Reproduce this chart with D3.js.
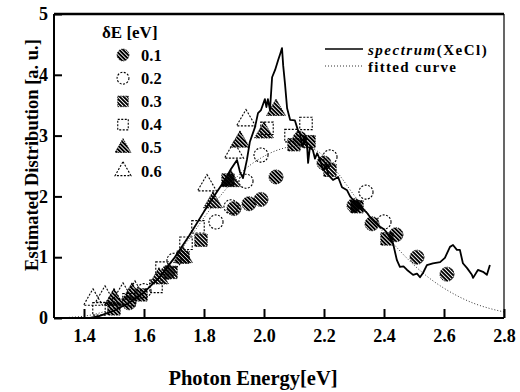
<!DOCTYPE html>
<html>
<head>
<meta charset="utf-8">
<script src="https://cdn.jsdelivr.net/npm/d3@7"></script>
<style>
  body { margin: 0; background: #fff; }
  svg text { font-family: "Liberation Serif", "Times New Roman", serif !important; font-weight: bold; fill: #000; }
</style>
</head>
<body>
<div id="chart"></div>
<script>
// measured spectrum (XeCl), [photon energy, value]
const spectrum = [
  [1.38,0.0],[1.42,0.0],[1.45,0.03],[1.50,0.12],[1.55,0.25],[1.60,0.42],[1.65,0.66],[1.70,0.98],
  [1.75,1.35],[1.80,1.75],[1.84,2.05],[1.86,2.2],[1.875,2.32],[1.89,2.45],[1.91,2.6],[1.92,2.4],
  [1.93,2.3],[1.943,2.6],[1.953,2.9],[1.97,3.14],[1.98,3.37],[1.99,3.42],[2.003,3.6],[2.008,3.47],
  [2.013,3.6],[2.02,3.42],[2.027,3.96],[2.037,4.08],[2.047,4.24],[2.055,4.36],[2.06,4.44],[2.064,4.15],
  [2.07,3.85],[2.077,3.45],[2.087,3.26],[2.103,3.25],[2.113,3.09],[2.12,3.04],[2.127,2.82],[2.135,2.9],
  [2.143,2.88],[2.147,2.55],[2.153,2.81],[2.163,2.76],[2.17,2.62],[2.177,2.71],[2.187,2.6],[2.197,2.43],
  [2.207,2.5],[2.215,2.35],[2.23,2.27],[2.247,2.32],[2.26,2.15],[2.277,2.1],[2.287,2.0],[2.297,1.94],
  [2.31,1.9],[2.32,1.83],[2.333,1.78],[2.343,1.73],[2.353,1.66],[2.363,1.61],[2.375,1.55],[2.387,1.5],
  [2.4,1.46],[2.41,1.4],[2.43,1.23],[2.443,0.95],[2.453,0.84],[2.465,0.85],[2.477,0.79],[2.497,0.71],
  [2.51,0.73],[2.52,0.67],[2.53,0.74],[2.543,0.87],[2.563,0.9],[2.587,0.92],[2.603,0.99],[2.62,1.17],
  [2.63,1.2],[2.643,1.12],[2.653,1.12],[2.663,0.9],[2.677,0.82],[2.693,0.71],[2.697,0.66],[2.713,0.79],
  [2.73,0.76],[2.743,0.71],[2.753,0.87]
];

// fitted curve
const fitted = [
  [1.30,0.0],[1.35,0.01],[1.40,0.03],[1.45,0.08],[1.50,0.16],[1.55,0.28],[1.60,0.45],[1.65,0.68],
  [1.70,0.97],[1.75,1.3],[1.80,1.65],[1.85,1.98],[1.90,2.27],[1.95,2.5],[2.00,2.66],[2.05,2.77],
  [2.10,2.82],[2.15,2.8],[2.20,2.66],[2.25,2.36],[2.30,2.02],[2.35,1.7],[2.40,1.4],[2.45,1.12],
  [2.50,0.87],[2.55,0.66],[2.60,0.49],[2.65,0.35],[2.70,0.24],[2.75,0.16],[2.80,0.1]
];

// estimated distributions for each dE
const de01 = [[1.55,0.25],[1.68,0.75],[1.9,1.8],[1.95,1.88],[1.99,1.95],[2.04,2.32],[2.12,2.95],
  [2.2,2.55],[2.3,1.85],[2.36,1.55],[2.44,1.37],[2.51,1.0],[2.61,0.72]];
const de02 = [[1.6,0.45],[1.7,0.95],[1.84,1.58],[1.89,1.83],[1.94,2.25],[1.99,2.68],[2.22,2.65],
  [2.34,2.07],[2.4,1.58]];
const de03 = [[1.5,0.15],[1.59,0.38],[1.69,0.75],[1.73,1.0],[1.79,1.28],[1.88,2.27],[2.1,2.85],
  [2.15,2.9],[2.22,2.43],[2.31,1.83],[2.41,1.3]];
const de04 = [[1.45,0.15],[1.55,0.3],[1.64,0.52],[1.66,0.82],[1.74,1.23],[1.78,1.5],[2.01,3.12],
  [2.09,3.0],[2.14,3.2]];
const de05 = [[1.5,0.3],[1.56,0.4],[1.65,0.65],[1.73,1.0],[1.83,1.9],[1.89,2.25],[1.92,2.9],
  [2.0,3.05],[2.04,3.42]];
const de06 = [[1.43,0.3],[1.47,0.35],[1.5,0.3],[1.53,0.4],[1.57,0.43],[1.81,2.18],[1.9,2.72],[1.94,3.25]];

const deLabels = ["0.1","0.2","0.3","0.4","0.5","0.6"];
const xTicks = [1.4,1.6,1.8,2.0,2.2,2.4,2.6,2.8];
const yTicks = [0,1,2,3,4,5];

const width = 520, height = 392;
const margin = {left: 54, right: 15, top: 14, bottom: 74};
const serif = '"Liberation Serif", "Times New Roman", serif';

const svg = d3.select("#chart").append("svg")
  .attr("width", width).attr("height", height);

const x = d3.scaleLinear().domain([1.3, 2.8]).range([margin.left, width - margin.right - 1]);
const y = d3.scaleLinear().domain([0, 5]).range([height - margin.bottom, margin.top]);

// hatch pattern for the filled symbols
svg.append("defs").append("pattern")
  .attr("id", "hatch")
  .attr("patternUnits", "userSpaceOnUse")
  .attr("width", 2.8).attr("height", 2.8)
  .attr("patternTransform", "rotate(-45)")
  .append("rect")
  .attr("x", 0).attr("y", 0).attr("width", 1.9).attr("height", 2.8)
  .attr("fill", "#000");

// symbol per series
const series = [
  {data: de01, shape: d3.symbolCircle, filled: true},
  {data: de02, shape: d3.symbolCircle, filled: false},
  {data: de03, shape: d3.symbolSquare, filled: true},
  {data: de04, shape: d3.symbolSquare, filled: false},
  {data: de05, shape: d3.symbolTriangle, filled: true},
  {data: de06, shape: d3.symbolTriangle, filled: false}
];

function drawSymbol(g, s, size) {
  const p = g.append("path")
    .attr("d", d3.symbol().type(s.shape).size(size)());
  if (s.filled) {
    p.attr("fill", "url(#hatch)").attr("stroke", "#000").attr("stroke-width", 0.8)
      .attr("stroke-dasharray", "1.5,1");
  } else {
    p.attr("fill", "none").attr("stroke", "#000").attr("stroke-width", 1.1)
      .attr("stroke-dasharray", "2,1.5");
  }
  return p;
}

// markers
series.forEach(s => {
  s.data.forEach(d => {
    const g = svg.append("g").attr("transform", `translate(${x(d[0])},${y(d[1])})`);
    drawSymbol(g, s, 155);
  });
});

// fitted curve
svg.append("path")
  .datum(fitted)
  .attr("fill", "none")
  .attr("stroke", "#333")
  .attr("stroke-width", 1)
  .attr("stroke-dasharray", "1,2")
  .attr("d", d3.line().curve(d3.curveMonotoneX).x(d => x(d[0])).y(d => y(d[1])));

// spectrum
svg.append("path")
  .datum(spectrum)
  .attr("fill", "none")
  .attr("stroke", "#000")
  .attr("stroke-width", 1.8)
  .attr("stroke-linejoin", "round")
  .attr("d", d3.line().x(d => x(d[0])).y(d => y(d[1])));

// axes
const xAxis = svg.append("g")
  .attr("transform", `translate(0,${y(0)})`)
  .call(d3.axisBottom(x).tickValues(xTicks).tickSize(-9).tickPadding(16).tickFormat(d3.format(".1f")));
const yAxis = svg.append("g")
  .attr("transform", `translate(${x(1.3)},0)`)
  .call(d3.axisLeft(y).tickValues(yTicks).tickSize(-8).tickPadding(6).tickFormat(d3.format("d")));

[xAxis, yAxis].forEach(a => {
  a.attr("font-family", serif).attr("font-weight", "bold");
  a.select(".domain").remove();
  a.selectAll(".tick line").attr("stroke", "#000").attr("stroke-width", 2);
  a.selectAll(".tick text")
    .style("font-family", serif).style("font-weight", "bold").style("font-size", "18px");
});
xAxis.selectAll(".tick text").attr("dy", "0.45em");

// frame
const fx0 = x(1.3), fx1 = x(2.8), fy0 = y(5), fy1 = y(0);
svg.append("line").attr("x1", fx0).attr("x2", fx1).attr("y1", fy0).attr("y2", fy0)
  .attr("stroke", "#000").attr("stroke-width", 2.5);
svg.append("line").attr("x1", fx0).attr("x2", fx1).attr("y1", fy1).attr("y2", fy1)
  .attr("stroke", "#000").attr("stroke-width", 2);
svg.append("line").attr("x1", fx0).attr("x2", fx0).attr("y1", fy0).attr("y2", fy1)
  .attr("stroke", "#000").attr("stroke-width", 2);
svg.append("line").attr("x1", fx1).attr("x2", fx1).attr("y1", fy0).attr("y2", fy1)
  .attr("stroke", "#000").attr("stroke-width", 1.2);

function label(sel, size) {
  return sel.style("font-family", serif).style("font-weight", "bold").style("font-size", size + "px");
}

// axis titles
label(svg.append("text"), 20.5)
  .attr("x", 253).attr("y", 385)
  .attr("text-anchor", "middle")
  .text("Photon Energy[eV]");
label(svg.append("text"), 18.5)
  .attr("transform", "translate(38,155) rotate(-90)")
  .attr("text-anchor", "middle")
  .text("Estimated Distribution [a. u.]");

// dE legend
label(svg.append("text"), 17).attr("x", 102).attr("y", 38).text("δE [eV]");
series.forEach((s, i) => {
  const yy = 55 + i * 23.2;
  const g = svg.append("g").attr("transform", `translate(123,${yy})`);
  drawSymbol(g, s, 110);
  label(svg.append("text"), 16.5).attr("x", 141).attr("y", yy + 5.5).text(deLabels[i]);
});

// line legend
svg.append("line").attr("x1", 325).attr("x2", 363).attr("y1", 49).attr("y2", 49)
  .attr("stroke", "#000").attr("stroke-width", 1.5);
svg.append("line").attr("x1", 325).attr("x2", 363).attr("y1", 66).attr("y2", 66)
  .attr("stroke", "#333").attr("stroke-width", 1).attr("stroke-dasharray", "1,2");
const t1 = label(svg.append("text"), 15).attr("x", 368).attr("y", 54.5)
  .style("letter-spacing", "1.5px");
t1.append("tspan").style("font-style", "italic").text("spectrum");
t1.append("tspan").text("(XeCl)");
label(svg.append("text"), 15).attr("x", 368).attr("y", 71.5)
  .style("letter-spacing", "1.3px").text("fitted curve");
</script>
</body>
</html>
